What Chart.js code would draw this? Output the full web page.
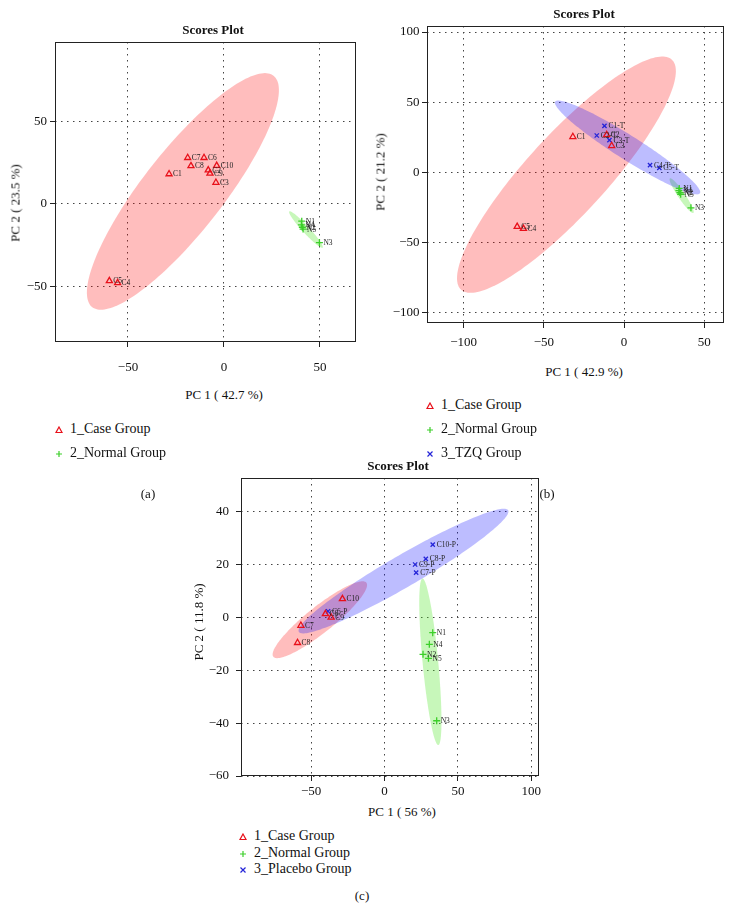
<!DOCTYPE html>
<html><head><meta charset="utf-8">
<script src="https://cdn.jsdelivr.net/npm/chart.js@4.4.0/dist/chart.umd.min.js"></script>
<style>
body{margin:0;background:#fff;width:734px;height:921px;position:relative;overflow:hidden;font-family:"Liberation Serif","Times New Roman",serif;color:#111}
.cv{position:absolute}
.t{position:absolute;white-space:nowrap;transform:translate(-50%,-50%);font-size:13px;line-height:1}
.ttl{font-weight:bold;font-size:13px}
.rot{transform:translate(-50%,-50%) rotate(-90deg)}
.leg{position:absolute;white-space:nowrap;font-size:14px;line-height:1;transform:translateY(-50%)}
.mk{position:absolute;transform:translate(-50%,-50%)}
</style></head><body>

<div class="cv" style="left:0;top:0;width:370px;height:380px"><canvas id="ca"></canvas></div>
<div class="cv" style="left:370px;top:0;width:364px;height:360px"><canvas id="cb"></canvas></div>
<div class="cv" style="left:180px;top:460px;width:380px;height:340px"><canvas id="cc"></canvas></div>

<div class="t ttl" style="left:213px;top:29px">Scores Plot</div>
<div class="t" style="left:224px;top:394px">PC 1 ( 42.7 %)</div>
<div class="t rot" style="left:15px;top:203px">PC 2 ( 23.5 %)</div>

<div class="t ttl" style="left:584px;top:13px">Scores Plot</div>
<div class="t" style="left:584px;top:371px">PC 1 ( 42.9 %)</div>
<div class="t rot" style="left:380px;top:172px">PC 2 ( 21.2 %)</div>

<div class="t ttl" style="left:398px;top:465px">Scores Plot</div>
<div class="t" style="left:402px;top:811px">PC 1 ( 56 %)</div>
<div class="t rot" style="left:198px;top:622px">PC 2 ( 11.8 %)</div>

<div id="legends"></div>

<div class="t" style="left:148px;top:493px">(a)</div>
<div class="t" style="left:547px;top:493px">(b)</div>
<div class="t" style="left:362px;top:895px">(c)</div>

<script>
// ---------- Panel (a) ----------
const aXRange = [-88, 68.75];
const aYRange = [-84, 98.5];
const aXTicks = [-50, 0, 50];
const aYTicks = [-50, 0, 50];
const aCaseLabels = ['C1','C2','C3','C4','C5','C6','C7','C8','C9','C10'];
const aCaseX = [-28.6, -8.2, -4.2, -55.4, -59.7, -10.4, -18.9, -17.2, -7.3, -3.8];
const aCaseY = [18.2, 20.6, 13.0, -48.0, -46.8, 28.1, 28.1, 23.1, 18.6, 23.3];
const aNormalLabels = ['N1','N2','N3','N4','N5'];
const aNormalX = [40.5, 40.8, 49.7, 40.3, 41.2];
const aNormalY = [-10.5, -14.2, -23.5, -12.8, -15.3];
// ellipse: centre x,y ; end of major axis x,y ; end of minor axis x,y (data units)
const aCaseEllipse = [-21.4, 7.6, 25.8, 78.0, -4.9, -7.4];
const aNormalEllipse = [42.7, -15.6, 51.4, -26.6, 41.4, -17.1];
const aLegend = ['1_Case Group', '2_Normal Group'];

// ---------- Panel (b) ----------
const bXRange = [-122.8, 62.3];
const bYRange = [-107.2, 104.3];
const bXTicks = [-100, -50, 0, 50];
const bYTicks = [-100, -50, 0, 50, 100];
const bCaseLabels = ['C1','C2','C3','C4','C5'];
const bCaseX = [-31.9, -10.8, -7.7, -62.7, -66.6];
const bCaseY = [25.4, 26.8, 19.0, -40.0, -38.6];
const bNormalLabels = ['N1','N2','N3','N4','N5'];
const bNormalX = [34.4, 34.8, 41.7, 34.2, 35.3];
const bNormalY = [-11.4, -14.3, -25.2, -13.0, -15.5];
const bTzqLabels = ['C1-T','C2-T','C3-T','C4-T','C5-T'];
const bTzqX = [-12.2, -17.0, -9.1, 16.2, 22.0];
const bTzqY = [33.2, 26.3, 23.0, 5.2, 3.3];
const bCaseEllipse = [-35.9, -1.6, 29.8, 80.3, -17.6, -20.9];
const bNormalEllipse = [35.9, -16.5, 43.2, -28.8, 37.7, -15.1];
const bTzqEllipse = [2.2, 17.8, 47.3, -14.8, 6.2, 25.1];
const bLegend = ['1_Case Group', '2_Normal Group', '3_TZQ Group'];

// ---------- Panel (c) ----------
const cXRange = [-97.8, 105.2];
const cYRange = [-60, 52.7];
const cXTicks = [-50, 0, 50, 100];
const cYTicks = [-60, -40, -20, 0, 20, 40];
const cCaseLabels = ['C6','C7','C8','C9','C10'];
const cCaseX = [-40.3, -57.0, -59.3, -36.4, -28.7];
const cCaseY = [1.3, -3.1, -9.6, 0.0, 7.0];
const cNormalLabels = ['N1','N2','N3','N4','N5'];
const cNormalX = [32.8, 26.2, 35.5, 30.5, 29.9];
const cNormalY = [-5.8, -14.0, -39.1, -10.2, -15.5];
const cPlaceboLabels = ['C6-P','C7-P','C8-P','C9-P','C10-P'];
const cPlaceboX = [-38.5, 21.5, 28.1, 20.8, 32.8];
const cPlaceboY = [2.3, 16.9, 22.1, 20.0, 27.5];
const cCaseEllipse = [-44.1, -0.9, -12.4, 13.1, -38.6, -4.8];
const cNormalEllipse = [31.2, -16.8, 25.8, 14.7, 36.5, -16.5];
const cPlaceboEllipse = [12.9, 17.5, 84.2, 40.5, 18.3, 12.3];
const cLegend = ['1_Case Group', '2_Normal Group', '3_Placebo Group'];

// ---------- styles ----------
const RED = '#e8101a', GREEN = '#3ccf2a', BLUE = '#2424d8';
const RED_FILL = 'rgba(255,0,0,0.26)', GREEN_FILL = 'rgba(80,230,40,0.32)', BLUE_FILL = 'rgba(0,0,255,0.26)';
const SERIF = '"Liberation Serif","Times New Roman",serif';

const ellipsePlugin = {
  id: 'ellipses',
  beforeDatasetsDraw(chart, args, opts) {
    const {ctx, chartArea: a, scales: {x, y}} = chart;
    ctx.save();
    ctx.beginPath(); ctx.rect(a.left, a.top, a.width, a.height); ctx.clip();
    for (const e of opts.list || []) {
      const [cx, cy, tx, ty, sx, sy] = e.p;
      ctx.beginPath();
      const N = 180;
      for (let k = 0; k <= N; k++) {
        const t = k / N * 2 * Math.PI;
        const dx = cx + Math.cos(t) * (tx - cx) + Math.sin(t) * (sx - cx);
        const dy = cy + Math.cos(t) * (ty - cy) + Math.sin(t) * (sy - cy);
        const px = x.getPixelForValue(dx), py = y.getPixelForValue(dy);
        if (k) ctx.lineTo(px, py); else ctx.moveTo(px, py);
      }
      ctx.closePath();
      ctx.fillStyle = e.color;
      ctx.fill();
    }
    ctx.restore();
  }
};

const labelPlugin = {
  id: 'ptlabels',
  afterDatasetsDraw(chart) {
    const ctx = chart.ctx;
    ctx.save();
    ctx.font = '7.5px ' + SERIF;
    ctx.fillStyle = '#222';
    ctx.textBaseline = 'middle';
    ctx.textAlign = 'left';
    chart.data.datasets.forEach((ds, i) => {
      const meta = chart.getDatasetMeta(i);
      meta.data.forEach((pt, j) => {
        ctx.fillText(ds.pointLabels[j], pt.x + 4, pt.y + 0.5);
      });
    });
    ctx.restore();
  }
};

const boxPlugin = {
  id: 'plotbox',
  afterDraw(chart) {
    const {ctx, chartArea: a} = chart;
    ctx.save();
    ctx.strokeStyle = '#222';
    ctx.lineWidth = 1;
    ctx.strokeRect(Math.round(a.left) + 0.5, Math.round(a.top) + 0.5, Math.round(a.width) - 1, Math.round(a.height) - 1);
    ctx.restore();
  }
};

function pts(xs, ys) { return xs.map((v, i) => ({x: v, y: ys[i]})); }
function fmt(v) { return String(v).replace('-', '\u2212'); }

function ds(label, xs, ys, labels, style, color, r) {
  return {
    label, data: pts(xs, ys), pointLabels: labels,
    pointStyle: style, pointRadius: r, borderColor: color,
    backgroundColor: 'rgba(0,0,0,0)', pointBorderWidth: 1.3, showLine: false
  };
}

function axis(range, ticks, fitKey, fitVal, pad) {
  return {
    type: 'linear', min: range[0], max: range[1],
    afterBuildTicks: s => { s.ticks = ticks.map(v => ({value: v})); },
    afterFit: s => { s[fitKey] = fitVal; },
    ticks: {callback: v => fmt(v), color: '#111', padding: pad, font: {family: SERIF, size: 13}, maxRotation: 0, autoSkip: false},
    grid: {color: '#444', lineWidth: 1, drawTicks: true, tickLength: 5, tickColor: '#222', tickWidth: 1},
    border: {display: false, dash: [1.5, 4.5]}
  };
}

function make(id, geom, datasets, ellipses, xr, yr, xt, yt) {
  return new Chart(document.getElementById(id), {
    type: 'scatter',
    data: {datasets},
    options: {
      responsive: true, maintainAspectRatio: false, animation: false, events: [],
      layout: {padding: {left: 0, top: geom.top, right: geom.right, bottom: 0}},
      plugins: {legend: {display: false}, title: {display: false}, tooltip: {enabled: false},
        ellipses: {list: ellipses}},
      scales: {
        x: axis(xr, xt, 'height', geom.xH, geom.xPad),
        y: axis(yr, yt, 'width', geom.yW, geom.yPad)
      }
    },
    plugins: [ellipsePlugin, labelPlugin, boxPlugin]
  });
}

make('ca', {top: 42, right: 14, xH: 38, yW: 55, xPad: 13, yPad: 3}, [
  ds(aLegend[0], aCaseX, aCaseY, aCaseLabels, 'triangle', RED, 3.5),
  ds(aLegend[1], aNormalX, aNormalY, aNormalLabels, 'cross', GREEN, 3.5)
], [{p: aCaseEllipse, color: RED_FILL}, {p: aNormalEllipse, color: GREEN_FILL}], aXRange, aYRange, aXTicks, aYTicks);

make('cb', {top: 26, right: 10, xH: 37, yW: 57, xPad: 7, yPad: 2.5}, [
  ds(bLegend[0], bCaseX, bCaseY, bCaseLabels, 'triangle', RED, 3.5),
  ds(bLegend[1], bNormalX, bNormalY, bNormalLabels, 'cross', GREEN, 3.5),
  ds(bLegend[2], bTzqX, bTzqY, bTzqLabels, 'crossRot', BLUE, 3)
], [{p: bCaseEllipse, color: RED_FILL}, {p: bNormalEllipse, color: GREEN_FILL}, {p: bTzqEllipse, color: BLUE_FILL}], bXRange, bYRange, bXTicks, bYTicks);

make('cc', {top: 18, right: 21, xH: 24, yW: 61, xPad: 3, yPad: 7}, [
  ds(cLegend[0], cCaseX, cCaseY, cCaseLabels, 'triangle', RED, 3.5),
  ds(cLegend[1], cNormalX, cNormalY, cNormalLabels, 'cross', GREEN, 3.5),
  ds(cLegend[2], cPlaceboX, cPlaceboY, cPlaceboLabels, 'crossRot', BLUE, 3)
], [{p: cCaseEllipse, color: RED_FILL}, {p: cNormalEllipse, color: GREEN_FILL}, {p: cPlaceboEllipse, color: BLUE_FILL}], cXRange, cYRange, cXTicks, cYTicks);

// ---------- HTML legends ----------
const markerSvg = [
  `<svg width="8" height="8" viewBox="0 0 8 8"><path d="M4 1 L7 6.5 L1 6.5 Z" fill="none" stroke="${RED}" stroke-width="1.2"/></svg>`,
  `<svg width="8" height="8" viewBox="0 0 8 8"><path d="M4 1 V7 M1 4 H7" stroke="${GREEN}" stroke-width="1.2"/></svg>`,
  `<svg width="8" height="8" viewBox="0 0 8 8"><path d="M1.5 1.5 L6.5 6.5 M6.5 1.5 L1.5 6.5" stroke="${BLUE}" stroke-width="1.2"/></svg>`
];
function legend(items, mx, tx, ys) {
  let h = '';
  items.forEach((txt, i) => {
    h += `<div class="mk" style="left:${mx}px;top:${ys[i]}px">${markerSvg[i]}</div>`;
    h += `<div class="leg" style="left:${tx}px;top:${ys[i]}px">${txt}</div>`;
  });
  return h;
}
document.getElementById('legends').innerHTML =
  legend(aLegend, 59, 70, [429, 453]) +
  legend(bLegend, 430, 441, [405, 429, 453]) +
  legend(cLegend, 243, 254, [836, 853, 869]);
</script>
</body></html>
